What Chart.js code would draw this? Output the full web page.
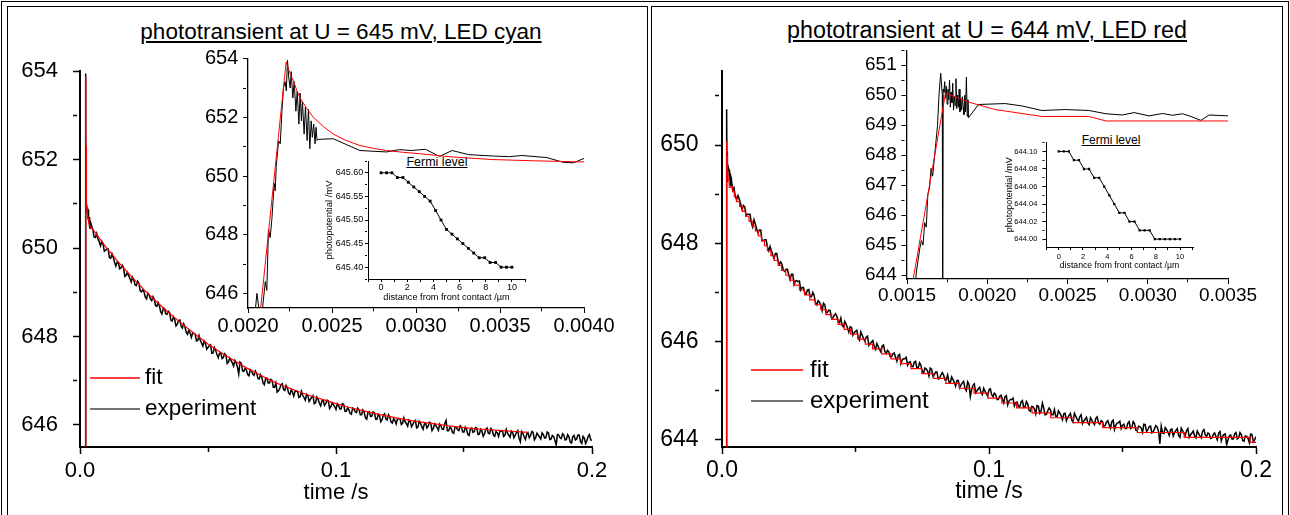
<!DOCTYPE html>
<html>
<head>
<meta charset="utf-8">
<script src="https://cdn.jsdelivr.net/npm/chart.js@4.4.1/dist/chart.umd.min.js"></script>
<style>
  body { margin: 0; width: 1290px; height: 515px; overflow: hidden; position: relative; background: #fff;
         font-family: 'Liberation Sans', Arial, Helvetica, sans-serif; }
  .frame { position: absolute; border: 1px solid #000; box-sizing: border-box; }
  .title { position: absolute; white-space: nowrap; transform: translateX(-50%); line-height: 1; color: #000;
           text-decoration: underline; text-decoration-thickness: 1.5px; text-underline-offset: 2px; }
  .small { text-decoration-thickness: 1px; text-underline-offset: 1px; }
  canvas { position: absolute; }
</style>
</head>
<body>
<div class="frame" style="left:1px;top:1px;width:1288px;height:600px"></div>
<div class="frame" style="left:7px;top:6px;width:641px;height:600px"></div>
<div class="frame" style="left:651px;top:6px;width:632px;height:600px"></div>

<div class="title" style="left:341px;top:21px;font-size:22.5px">phototransient at U = 645 mV, LED cyan</div>
<div class="title" style="left:987px;top:19px;font-size:23.3px">phototransient at U = 644 mV, LED red</div>
<div class="title small" style="left:437px;top:156px;font-size:12.5px">Fermi level</div>
<div class="title small" style="left:1111px;top:134px;font-size:12px">Fermi level</div>

<script>
const FONT = "'Liberation Sans', Arial, Helvetica, sans-serif";

// ---------- cyan LED, U = 645 mV ----------
// [time s, mV] around the light pulse
const cyanFitEarly = [
  [0, 645.2], [0.00207, 645.2], [0.002227, 653.89], [0.00225, 653.5], [0.002271, 653.23],
  [0.00229, 652.93], [0.00231, 652.66], [0.00235, 652.3], [0.002389, 652.0], [0.00245, 651.68],
  [0.002508, 651.43], [0.00258, 651.22], [0.002666, 651.04], [0.00275, 650.94], [0.002824, 650.87],
  [0.00292, 650.81], [0.003022, 650.76], [0.003215, 650.65], [0.00346, 650.56], [0.0037, 650.52],
  [0.004, 650.48]
];
// decay part of the fit, every 5 ms from 5 ms
const cyanFitStart = 0.005, cyanFitStep = 0.005;
const cyanFitLate = [
  650.42, 650.03, 649.68, 649.36, 649.06, 648.78, 648.52, 648.28, 648.05, 647.83,
  647.64, 647.46, 647.29, 647.14, 646.99, 646.87, 646.76, 646.66, 646.57, 646.48,
  646.40, 646.33, 646.26, 646.20, 646.14, 646.09, 646.05, 646.01, 645.97, 645.94,
  645.91, 645.89, 645.87, 645.85, 645.83
];
const cyanExpEarly = [
  [0, 645.2], [0.00204, 645.2], [0.002053, 646.0], [0.002069, 645.3], [0.002083, 645.3],
  [0.002103, 646.4], [0.002112, 646.1], [0.002122, 648.19], [0.002132, 647.9], [0.002142, 648.52],
  [0.002156, 649.75], [0.002162, 649.5], [0.002168, 650.32], [0.002182, 651.2], [0.002192, 651.1],
  [0.002202, 652.2], [0.002211, 653.0], [0.002221, 653.22], [0.002228, 652.9], [0.002235, 653.95],
  [0.002243, 653.34], [0.002251, 653.0], [0.002257, 653.56], [0.002267, 652.66], [0.002275, 653.22],
  [0.002285, 652.21], [0.002293, 652.89], [0.002303, 651.77], [0.00231, 652.83], [0.002318, 651.88],
  [0.002324, 652.55], [0.002334, 651.43], [0.002342, 652.38], [0.002352, 651.21], [0.00236, 652.27],
  [0.002368, 650.93], [0.002376, 651.88], [0.002383, 651.32], [0.002391, 651.77], [0.002399, 651.1],
  [0.002405, 651.66], [0.002411, 651.21], [0.002418, 651.25], [0.002508, 651.27], [0.002666, 650.87],
  [0.002824, 650.82], [0.0029, 650.9], [0.00297, 650.87], [0.003056, 650.91], [0.00314, 650.67],
  [0.003215, 650.87], [0.003312, 650.73], [0.00346, 650.68], [0.003557, 650.66], [0.00363, 650.7],
  [0.003778, 650.63], [0.003874, 650.47], [0.003937, 650.45], [0.004, 650.6]
];
// measured transient: one sample per ms from 5 ms, plus the samples half a ms later
const cyanExpStart = 0.005, cyanExpStep = 0.001;
const cyanExpLate = [
  650.42, 650.24, 650.21, 650.05, 650.09, 649.95, 649.98, 649.77, 649.79, 649.59,
  649.67, 649.55, 649.56, 649.38, 649.38, 649.23, 649.28, 649.15, 649.21, 649.01,
  649.01, 648.85, 648.94, 648.81, 648.84, 648.68, 648.70, 648.51, 648.63, 648.50,
  648.54, 648.35, 648.38, 648.28, 648.37, 648.19, 648.22, 648.05, 648.08, 648.08,
  648.05, 647.91, 647.91, 647.78, 647.85, 647.75, 647.81, 647.63, 647.69, 647.52,
  647.63, 647.53, 647.58, 647.42, 647.46, 647.33, 647.41, 647.15, 647.39, 647.21,
  647.24, 647.11, 647.22, 647.12, 647.17, 647.04, 647.08, 646.91, 647.06, 646.95,
  647.01, 646.85, 646.74, 646.82, 646.93, 646.78, 646.84, 646.69, 646.74, 646.76,
  646.76, 646.64, 646.67, 646.56, 646.66, 646.58, 646.66, 646.50, 646.58, 646.43,
  646.56, 646.48, 646.54, 646.41, 646.46, 646.35, 646.44, 646.36, 646.46, 646.31,
  646.35, 646.24, 646.36, 646.28, 646.34, 646.23, 646.29, 646.13, 646.30, 646.20,
  646.28, 646.13, 646.20, 646.12, 646.25, 646.11, 646.18, 646.04, 646.10, 646.13,
  646.14, 646.03, 646.07, 645.97, 646.08, 646.01, 646.10, 645.95, 646.04, 645.90,
  646.04, 645.97, 646.04, 645.92, 645.98, 645.88, 645.98, 645.90, 646.10, 645.87,
  645.92, 645.81, 645.95, 645.87, 645.95, 645.84, 645.90, 645.76, 645.93, 645.85,
  645.93, 645.79, 645.86, 645.80, 645.93, 645.80, 645.88, 645.74, 645.82, 645.85,
  645.87, 645.77, 645.81, 645.72, 645.83, 645.77, 645.87, 645.62, 645.81, 645.67,
  645.82, 645.76, 645.83, 645.71, 645.77, 645.68, 645.78, 645.71, 645.82, 645.68,
  645.74, 645.55, 645.77, 645.69, 645.77, 645.67, 645.73, 645.59, 645.76, 645.68,
  645.77, 645.58, 645.70, 645.64, 645.78, 645.65
];
const cyanExpHalf = [
  650.25, 650.33, 650.14, 650.15, 649.93, 649.98, 649.78, 649.87, 649.68, 649.68,
  649.53, 649.61, 649.36, 649.45, 649.31, 649.34, 649.17, 649.25, 649.03, 649.06,
  648.89, 648.98, 648.85, 648.90, 648.70, 648.77, 648.56, 648.63, 648.51, 648.57,
  648.37, 648.44, 648.24, 648.36, 648.23, 648.29, 648.09, 648.14, 647.98, 648.07,
  647.90, 648.02, 647.85, 647.90, 647.71, 647.79, 647.62, 647.75, 647.59, 647.62,
  647.50, 647.61, 647.39, 647.51, 647.40, 647.46, 647.31, 647.42, 647.22, 647.28,
  647.14, 647.25, 647.15, 647.22, 647.05, 647.14, 646.95, 647.05, 646.95, 647.03,
  646.85, 646.95, 646.77, 646.91, 646.80, 646.89, 646.72, 646.79, 646.65, 646.76,
  646.62, 646.76, 646.62, 646.69, 646.53, 646.63, 646.48, 646.63, 646.49, 646.54,
  646.44, 646.56, 646.37, 646.50, 646.41, 646.48, 646.36, 646.48, 646.31, 646.38,
  646.26, 646.38, 646.30, 646.38, 646.23, 646.34, 646.16, 646.28, 646.19, 646.29,
  646.13, 646.24, 646.07, 646.22, 646.13, 646.23, 646.07, 646.14, 646.02, 646.14,
  646.01, 646.16, 646.03, 646.11, 645.96, 646.07, 645.93, 646.08, 645.96, 646.02,
  645.93, 646.06, 645.87, 646.02, 645.94, 646.02, 645.90, 646.03, 645.87, 645.95,
  645.83, 645.96, 645.89, 645.98, 645.84, 645.95, 645.78, 645.91, 645.83, 645.94,
  645.78, 645.90, 645.74, 645.90, 645.81, 645.92, 645.77, 645.85, 645.74, 645.86,
  645.74, 645.90, 645.77, 645.86, 645.71, 645.83, 645.70, 645.85, 645.73, 645.79,
  645.71, 645.85, 645.66, 645.81, 645.73, 645.82, 645.70, 645.84, 645.67, 645.76,
  645.65, 645.78, 645.71, 645.80, 645.66, 645.78, 645.61, 645.74, 645.66, 645.77,
  645.62, 645.74, 645.58, 645.74, 645.66
];

// Fermi level profile vs. distance from the front contact (µm)
const depth = [0, 0.42, 0.83, 1.25, 1.67, 2.08, 2.5, 2.92, 3.33, 3.75, 4.17, 4.58, 5,
               5.42, 5.83, 6.25, 6.67, 7.08, 7.5, 7.92, 8.33, 8.75, 9.17, 9.58, 10];
const cyanFermi = [645.60, 645.60, 645.60, 645.59, 645.59, 645.58, 645.57, 645.56, 645.55, 645.54,
                   645.52, 645.50, 645.48, 645.47, 645.46, 645.45, 645.44, 645.43, 645.42, 645.42,
                   645.41, 645.41, 645.40, 645.40, 645.40];

// ---------- red LED, U = 644 mV ----------
const redFitEarly = [
  [0, 643.6], [0.00153, 643.6], [0.00174, 650.07], [0.001883, 649.77], [0.00205, 649.52],
  [0.00234, 649.29], [0.002633, 649.29], [0.00274, 649.14], [0.0035, 649.14]
];
// the stored fit is quantised: [start time of level, level]
const redFitSteps = [
  [0.0035, 649.15], [0.0040, 649.05], [0.0046, 648.95], [0.0054, 648.85], [0.0066, 648.75],
  [0.0077, 648.65], [0.0089, 648.55], [0.0101, 648.45], [0.0113, 648.35], [0.0125, 648.25],
  [0.0136, 648.15], [0.0148, 648.05], [0.0159, 647.95], [0.0170, 647.85], [0.0183, 647.75],
  [0.0196, 647.65], [0.0210, 647.55], [0.0223, 647.45], [0.0239, 647.35], [0.0255, 647.25],
  [0.0270, 647.15], [0.0290, 647.05], [0.0309, 646.95], [0.0329, 646.85], [0.0349, 646.75],
  [0.0370, 646.65], [0.0390, 646.55], [0.0411, 646.45], [0.0435, 646.35], [0.0458, 646.25],
  [0.0482, 646.15], [0.0509, 646.05], [0.0537, 645.95], [0.0564, 645.85], [0.0598, 645.75],
  [0.0633, 645.65], [0.0669, 645.55], [0.0708, 645.45], [0.0748, 645.35], [0.0793, 645.25],
  [0.0838, 645.15], [0.0889, 645.05], [0.0944, 644.95], [0.0996, 644.85], [0.1048, 644.75],
  [0.1103, 644.65], [0.1161, 644.55], [0.1231, 644.45], [0.1316, 644.35], [0.1426, 644.25],
  [0.1556, 644.15], [0.1731, 644.05], [0.1978, 643.95], [0.2, 643.95]
];
const redExpEarly = [
  [0, 643.6], [0.00155, 643.6], [0.00156, 644.17], [0.00158, 644.9], [0.00159, 645.15],
  [0.0016, 645.0], [0.00161, 645.75], [0.00162, 645.6], [0.00163, 646.69], [0.00164, 646.9],
  [0.00165, 647.56], [0.00166, 647.3], [0.00168, 648.43], [0.00169, 648.98], [0.0017, 650.07],
  [0.00171, 650.73], [0.00172, 650.0], [0.001722, 643.6], [0.001725, 650.2], [0.00173, 650.1],
  [0.001735, 650.45], [0.00174, 649.9], [0.001745, 650.3], [0.00175, 649.7], [0.001755, 650.2],
  [0.00176, 649.85], [0.001765, 650.5], [0.00177, 649.6], [0.001775, 650.1], [0.00178, 649.75],
  [0.001785, 650.4], [0.00179, 649.5], [0.001795, 649.95], [0.0018, 649.65], [0.001805, 650.55],
  [0.00181, 649.55], [0.001815, 650.0], [0.00182, 649.6], [0.001825, 650.2], [0.00183, 649.45],
  [0.001835, 649.9], [0.00184, 649.5], [0.001845, 649.95], [0.00185, 649.6], [0.001855, 649.35],
  [0.00186, 650.0], [0.001865, 649.45], [0.00187, 650.6], [0.001875, 649.3], [0.00188, 649.85],
  [0.001883, 649.25], [0.001946, 649.69], [0.002112, 649.72], [0.002217, 649.64], [0.00234, 649.49],
  [0.002487, 649.52], [0.002633, 649.49], [0.00274, 649.38], [0.002842, 649.34], [0.002915, 649.42],
  [0.003008, 649.31], [0.003092, 649.39], [0.003154, 649.33], [0.003217, 649.38], [0.003269, 649.29],
  [0.003331, 649.16], [0.003383, 649.34], [0.0035, 649.31]
];
const redExpStart = 0.004, redExpStep = 0.001;
const redExpLate = [
  649.08,
  648.94, 648.97, 648.80, 648.77, 648.56, 648.59, 648.41, 648.48, 648.29, 648.27,
  648.05, 648.07, 647.93, 647.94, 647.77, 647.79, 647.64, 647.62, 647.45, 647.47,
  647.36, 647.37, 647.16, 647.24, 647.23, 647.10, 646.99, 647.05, 646.91, 647.00,
  646.79, 646.83, 646.74, 646.78, 646.58, 646.64, 646.48, 646.53, 646.52, 646.39,
  646.33, 646.41, 646.28, 646.30, 646.13, 646.21, 646.08, 646.20, 646.06, 646.09,
  645.92, 645.99, 645.90, 645.96, 645.84, 645.91, 645.80, 645.82, 645.69, 645.75,
  645.68, 645.72, 645.55, 645.65, 645.68, 645.58, 645.50, 645.58, 645.46, 645.57,
  645.39, 645.46, 645.40, 645.46, 645.29, 645.38, 645.24, 645.32, 645.32, 645.22,
  645.18, 645.28, 645.17, 645.21, 645.06, 645.16, 645.05, 645.18, 644.88, 645.11,
  644.96, 645.04, 644.96, 645.05, 644.94, 645.02, 644.92, 644.95, 644.82, 644.89,
  644.83, 644.88, 644.71, 644.82, 644.85, 644.76, 644.68, 644.77, 644.66, 644.78,
  644.60, 644.68, 644.63, 644.70, 644.54, 644.75, 644.51, 644.59, 644.61, 644.51,
  644.48, 644.59, 644.49, 644.53, 644.39, 644.50, 644.40, 644.54, 644.42, 644.47,
  644.33, 644.42, 644.35, 644.45, 644.35, 644.44, 644.35, 644.39, 644.28, 644.36,
  644.31, 644.37, 644.21, 644.34, 644.38, 644.30, 644.23, 644.34, 644.23, 644.37,
  644.20, 644.28, 644.24, 644.32, 644.17, 644.27, 644.14, 644.23, 644.26, 643.92,
  644.14, 644.25, 644.16, 644.21, 644.08, 644.19, 644.09, 644.24, 644.13, 644.19,
  644.05, 644.14, 644.08, 644.18, 644.08, 644.18, 644.10, 644.14, 644.03, 644.11,
  644.07, 644.14, 643.98, 644.11, 643.90, 644.08, 644.02, 644.12, 644.02, 644.15,
  643.99, 644.08, 644.03, 644.12, 643.96, 644.07
];
const redExpHalf = [
  649.13,
  648.89, 648.89, 648.69, 648.74, 648.59, 648.59, 648.33, 648.39, 648.21, 648.27,
  648.06, 648.07, 647.85, 647.85, 647.69, 647.79, 647.58, 647.57, 647.43, 647.47,
  647.26, 647.37, 647.23, 647.22, 647.05, 647.10, 646.97, 647.06, 646.91, 646.94,
  646.75, 646.80, 646.63, 646.75, 646.60, 646.63, 646.48, 646.57, 646.41, 646.48,
  646.30, 646.35, 646.19, 646.29, 646.18, 646.23, 646.03, 646.13, 646.01, 646.11,
  645.96, 646.02, 645.84, 645.90, 645.79, 645.93, 645.76, 645.79, 645.69, 645.77,
  645.60, 645.74, 645.63, 645.65, 645.52, 645.59, 645.49, 645.60, 645.47, 645.52,
  645.36, 645.44, 645.30, 645.44, 645.32, 645.38, 645.25, 645.37, 645.22, 645.32,
  645.16, 645.23, 645.09, 645.21, 645.12, 645.19, 645.00, 645.13, 645.02, 645.14,
  645.00, 645.07, 644.92, 644.99, 644.89, 645.04, 644.88, 644.92, 644.82, 644.91,
  644.75, 644.90, 644.79, 644.82, 644.69, 644.77, 644.67, 644.80, 644.67, 644.73,
  644.58, 644.67, 644.53, 644.69, 644.58, 644.65, 644.52, 644.65, 644.51, 644.62,
  644.47, 644.55, 644.41, 644.54, 644.46, 644.54, 644.36, 644.48, 644.38, 644.51,
  644.38, 644.46, 644.31, 644.40, 644.31, 644.47, 644.32, 644.37, 644.29, 644.39,
  644.24, 644.40, 644.30, 644.35, 644.23, 644.32, 644.23, 644.37, 644.25, 644.33,
  644.18, 644.27, 644.15, 644.31, 644.21, 644.28, 644.16, 644.29, 644.17, 644.28,
  644.13, 644.21, 644.09, 644.22, 644.15, 644.23, 644.05, 644.19, 644.09, 644.23,
  644.10, 644.18, 644.04, 644.13, 644.04, 644.21, 644.07, 644.12, 644.04, 644.14,
  644.00, 644.17, 644.07, 644.12, 644.00, 644.10, 644.02, 644.15, 644.04, 644.11,
  643.97, 644.07, 643.94, 644.11, 644.00
];
const redFermi = [644.10, 644.10, 644.10, 644.09, 644.09, 644.08, 644.08, 644.07, 644.07, 644.06,
                  644.05, 644.04, 644.03, 644.03, 644.02, 644.02, 644.01, 644.01, 644.01, 644.00,
                  644.00, 644.00, 644.00, 644.00, 644.00];

const fitLabel = 'fit', expLabel = 'experiment';

// ---------- helpers ----------
const pairs = list => list.map(([x, y]) => ({ x, y }));
const sampled = (t0, dt, vals) => vals.map((y, i) => ({ x: t0 + i * dt, y }));
// whole-ms samples and the half-ms samples in time order
const merged = (t0, dt, whole, half) => {
  const out = [];
  whole.forEach((y, i) => {
    out.push({ x: t0 + i * dt, y });
    if (i < half.length) out.push({ x: t0 + (i + 0.5) * dt, y: half[i] });
  });
  return out;
};
const onStep = (v, step) => Math.abs(v / step - Math.round(v / step)) < 1e-6;

// legend drawn as short lines inside the plot area
const lineLegend = {
  id: 'lineLegend',
  afterDatasetsDraw(chart, args, opts) {
    if (!opts.entries) return;
    const { ctx, chartArea: a } = chart;
    ctx.save();
    ctx.font = opts.size + 'px ' + FONT;
    ctx.textBaseline = 'middle';
    ctx.lineWidth = 1.5;
    opts.entries.forEach(e => {
      const ds = chart.data.datasets[e.index];
      const y = a.bottom - e.offset;
      ctx.strokeStyle = e.color;
      ctx.beginPath();
      ctx.moveTo(a.left + opts.from, y);
      ctx.lineTo(a.left + opts.to, y);
      ctx.stroke();
      ctx.fillStyle = '#000';
      ctx.fillText(ds.label, a.left + opts.textAt, y);
    });
    ctx.restore();
  }
};
Chart.register(lineLegend);

function axis(o) {
  return {
    type: 'linear',
    position: o.pos,
    min: o.min,
    max: o.max,
    border: { color: '#000', width: o.bw },
    grid: {
      drawOnChartArea: false,
      tickLength: o.tl,
      tickWidth: o.tw || 1,
      tickColor: '#000',
      // minor ticks are shortened with a dash pattern
      tickBorderDash: c => (c.tick && onStep(c.tick.value, o.major)) ? [] : [o.minor, 60]
    },
    ticks: {
      stepSize: o.step,
      autoSkip: false,
      includeBounds: false,
      maxRotation: 0,
      padding: o.pad,
      color: '#000',
      font: { family: FONT, size: o.size },
      callback: v => onStep(v, o.major) ? v.toFixed(o.digits) : ''
    },
    title: o.title
      ? { display: true, text: o.title, color: '#000', font: { family: FONT, size: o.titleSize }, padding: o.titlePad }
      : { display: false },
    afterFit: s => { if (o.pos === 'left') s.width = o.room; else s.height = o.room; }
  };
}

function plot(area, pad, datasets, x, y, legend) {
  const cv = document.createElement('canvas');
  const w = y.room + (area.r - area.l) + pad.r;
  const h = pad.t + (area.b - area.t) + x.room;
  cv.width = w;
  cv.height = h;
  cv.style.left = (area.l - y.room) + 'px';
  cv.style.top = (area.t - pad.t) + 'px';
  cv.style.width = w + 'px';
  cv.style.height = h + 'px';
  document.body.appendChild(cv);
  return new Chart(cv, {
    type: 'line',
    data: { datasets },
    options: {
      responsive: false,
      animation: false,
      events: [],
      layout: { padding: { top: pad.t, right: pad.r, left: 0, bottom: 0 } },
      plugins: { legend: { display: false }, tooltip: { enabled: false }, lineLegend: legend || {} },
      scales: { x: axis(x), y: axis(y) }
    }
  });
}

const line = (label, data, color, extra) => Object.assign({
  label, data, borderColor: color, borderWidth: 1, pointRadius: 0, tension: 0, fill: false
}, extra || {});

const fermiLine = (data, r) => ({
  data, borderColor: '#000', borderWidth: 1, pointStyle: 'rect', pointRadius: r,
  pointBackgroundColor: '#000', pointBorderWidth: 0, tension: 0
});

// ---------- left panel: cyan ----------
plot({ l: 80, t: 59, r: 592, b: 447 }, { t: 16, r: 30 },
  [
    line(fitLabel, pairs(cyanFitEarly).concat(sampled(cyanFitStart, cyanFitStep, cyanFitLate)), '#ff0000', { borderWidth: 1.2 }),
    line(expLabel, pairs(cyanExpEarly).concat(merged(cyanExpStart, cyanExpStep, cyanExpLate, cyanExpHalf)), '#000',
      { borderWidth: 1.5 })
  ],
  { pos: 'bottom', min: 0, max: 0.2, step: 0.05, major: 0.1, digits: 1, size: 22, tl: 7, minor: 4, tw: 1.5, bw: 2,
    pad: 3.8, room: 64, title: 'time /s', titleSize: 22, titlePad: { top: 0, bottom: 4.5 } },
  { pos: 'left', min: 645.5, max: 654, step: 1, major: 2, digits: 0, size: 22, tl: 7, minor: 4, tw: 1.5, bw: 2,
    pad: 15, room: 75 },
  { size: 22.5, from: 10, to: 60, textAt: 65,
    entries: [{ index: 0, offset: 69, color: '#ff0000' }, { index: 1, offset: 38, color: '#444' }] }
);

plot({ l: 248, t: 54, r: 584, b: 308 }, { t: 12, r: 40 },
  [line(fitLabel, pairs(cyanFitEarly), '#ff0000'), line(expLabel, pairs(cyanExpEarly), '#000')],
  { pos: 'bottom', min: 0.002, max: 0.004, step: 0.00025, major: 0.0005, digits: 4, size: 20, tl: 5, minor: 3,
    bw: 1.3, pad: 1.7, room: 30 },
  { pos: 'left', min: 645.5, max: 654, step: 1, major: 2, digits: 0, size: 20, tl: 5, minor: 3, bw: 1.3,
    pad: 4.7, room: 50 }
);

plot({ l: 368, t: 161, r: 525, b: 279 }, { t: 8, r: 12 },
  [fermiLine(depth.map((x, i) => ({ x, y: cyanFermi[i] })), 2)],
  { pos: 'bottom', min: -1, max: 11, step: 1, major: 2, digits: 0, size: 9, tl: 3, minor: 2, bw: 1, pad: 0,
    room: 26, title: 'distance from front contact /µm', titleSize: 9.2, titlePad: { top: 0, bottom: 2.5 } },
  { pos: 'left', min: 645.375, max: 645.625, step: 0.025, major: 0.05, digits: 2, size: 9, tl: 3, minor: 2, bw: 1,
    pad: 1.7, room: 50, title: 'photopotential /mV', titleSize: 9.5, titlePad: { top: 5.6, bottom: 0 } }
);

// ---------- right panel: red ----------
plot({ l: 722, t: 57, r: 1256, b: 447 }, { t: 16, r: 30 },
  [
    line(fitLabel, pairs(redFitEarly), '#ff0000', { borderWidth: 1.2 }),
    line(fitLabel, pairs(redFitSteps), '#ff0000', { stepped: 'before', borderWidth: 1.2 }),
    line(expLabel, pairs(redExpEarly).concat(merged(redExpStart, redExpStep, redExpLate, redExpHalf)), '#000',
      { borderWidth: 1.5 })
  ],
  { pos: 'bottom', min: 0, max: 0.2, step: 0.05, major: 0.1, digits: 1, size: 23, tl: 7, minor: 4, tw: 1.5, bw: 2,
    pad: 3.2, room: 64, title: 'time /s', titleSize: 23, titlePad: { top: 0, bottom: 5.5 } },
  { pos: 'left', min: 643.855, max: 651.5, step: 1, major: 2, digits: 0, size: 23, tl: 7, minor: 4, tw: 1.5, bw: 2,
    pad: 16.5, room: 75 },
  { size: 24, from: 29, to: 81, textAt: 88,
    entries: [{ index: 0, offset: 77, color: '#ff0000' }, { index: 2, offset: 46, color: '#444' }] }
);

plot({ l: 907, t: 46, r: 1228, b: 279 }, { t: 12, r: 40 },
  [line(fitLabel, pairs(redFitEarly), '#ff0000'), line(expLabel, pairs(redExpEarly), '#000')],
  { pos: 'bottom', min: 0.0015, max: 0.0035, step: 0.00025, major: 0.0005, digits: 4, size: 19, tl: 5, minor: 3,
    bw: 1.3, pad: 0.6, room: 30 },
  { pos: 'left', min: 643.87, max: 651.5, step: 0.5, major: 1, digits: 0, size: 19, tl: 5.5, minor: 3, bw: 1.3,
    pad: 4.8, room: 50 }
);

plot({ l: 1046, t: 141, r: 1193, b: 247 }, { t: 8, r: 12 },
  [fermiLine(depth.map((x, i) => ({ x, y: redFermi[i] })), 1.6)],
  { pos: 'bottom', min: -1.05, max: 11.07, step: 1, major: 2, digits: 0, size: 7.5, tl: 3, minor: 2, bw: 1, pad: 2.2,
    room: 25, title: 'distance from front contact /µm', titleSize: 8.7, titlePad: { top: 0, bottom: 1.1 } },
  { pos: 'left', min: 643.991, max: 644.11, step: 0.01, major: 0.02, digits: 2, size: 7.5, tl: 3.5, minor: 2, bw: 1,
    pad: 5.2, room: 45, title: 'photopotential /mV', titleSize: 9, titlePad: { top: 3.6, bottom: 0 } }
);
</script>
</body>
</html>
